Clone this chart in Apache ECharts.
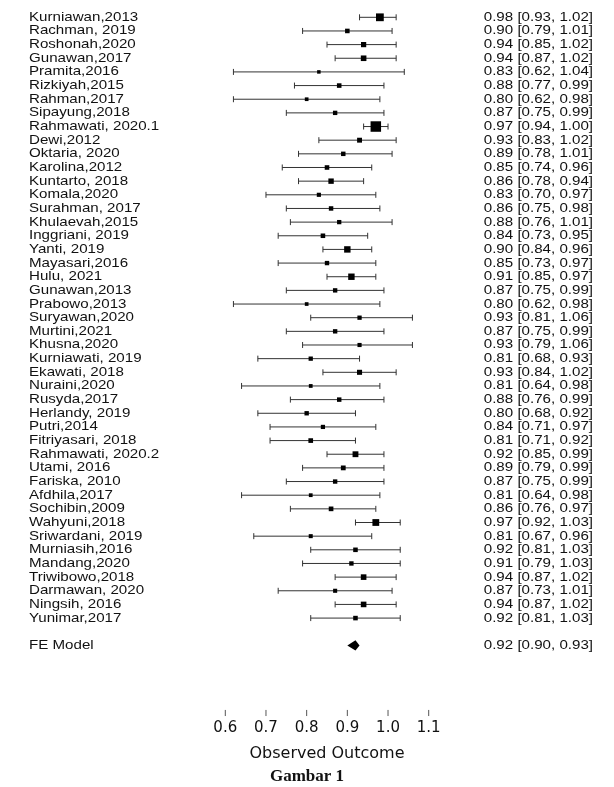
<!DOCTYPE html>
<html>
<head>
<meta charset="utf-8">
<script src="https://cdn.jsdelivr.net/npm/echarts@6/dist/echarts.min.js"></script>
<style>
  html, body { margin: 0; padding: 0; background: #fff; }
  #container { width: 614px; height: 787px; }
</style>
</head>
<body>
<div id="container"></div>
<script>
var studies = ['Kurniawan,2013', 'Rachman, 2019', 'Roshonah,2020', 'Gunawan,2017', 'Pramita,2016',
  'Rizkiyah,2015', 'Rahman,2017', 'Sipayung,2018', 'Rahmawati, 2020.1', 'Dewi,2012',
  'Oktaria, 2020', 'Karolina,2012', 'Kuntarto, 2018', 'Komala,2020', 'Surahman, 2017',
  'Khulaevah,2015', 'Inggriani, 2019', 'Yanti, 2019', 'Mayasari,2016', 'Hulu, 2021',
  'Gunawan,2013', 'Prabowo,2013', 'Suryawan,2020', 'Murtini,2021', 'Khusna,2020',
  'Kurniawati, 2019', 'Ekawati, 2018', 'Nuraini,2020', 'Rusyda,2017', 'Herlandy, 2019',
  'Putri,2014', 'Fitriyasari, 2018', 'Rahmawati, 2020.2', 'Utami, 2016', 'Fariska, 2010',
  'Afdhila,2017', 'Sochibin,2009', 'Wahyuni,2018', 'Sriwardani, 2019', 'Murniasih,2016',
  'Mandang,2020', 'Triwibowo,2018', 'Darmawan, 2020', 'Ningsih, 2016', 'Yunimar,2017'];
var est = [0.98, 0.90, 0.94, 0.94, 0.83, 0.88, 0.80, 0.87, 0.97, 0.93,
  0.89, 0.85, 0.86, 0.83, 0.86, 0.88, 0.84, 0.90, 0.85, 0.91,
  0.87, 0.80, 0.93, 0.87, 0.93, 0.81, 0.93, 0.81, 0.88, 0.80,
  0.84, 0.81, 0.92, 0.89, 0.87, 0.81, 0.86, 0.97, 0.81, 0.92,
  0.91, 0.94, 0.87, 0.94, 0.92];
var lower = [0.93, 0.79, 0.85, 0.87, 0.62, 0.77, 0.62, 0.75, 0.94, 0.83,
  0.78, 0.74, 0.78, 0.70, 0.75, 0.76, 0.73, 0.84, 0.73, 0.85,
  0.75, 0.62, 0.81, 0.75, 0.79, 0.68, 0.84, 0.64, 0.76, 0.68,
  0.71, 0.71, 0.85, 0.79, 0.75, 0.64, 0.76, 0.92, 0.67, 0.81,
  0.79, 0.87, 0.73, 0.87, 0.81];
var upper = [1.02, 1.01, 1.02, 1.02, 1.04, 0.99, 0.98, 0.99, 1.00, 1.02,
  1.01, 0.96, 0.94, 0.97, 0.98, 1.01, 0.95, 0.96, 0.97, 0.97,
  0.99, 0.98, 1.06, 0.99, 1.06, 0.93, 1.02, 0.98, 0.99, 0.92,
  0.97, 0.92, 0.99, 0.99, 0.99, 0.98, 0.97, 1.03, 0.96, 1.03,
  1.03, 1.02, 1.01, 1.02, 1.03];
var feLabel = 'FE Model';
var feEst = 0.92, feLower = 0.90, feUpper = 0.93;
var xTicks = [0.6, 0.7, 0.8, 0.9, 1.0, 1.1];

var chart = echarts.init(document.getElementById('container'));

function ann(e, l, u) {
  return e.toFixed(2) + ' [' + l.toFixed(2) + ', ' + u.toFixed(2) + ']';
}

// square size like metafor: 1/ci width rescaled to 0.5..1.5
var inv = studies.map(function (s, i) { return 1 / (upper[i] - lower[i]); });
var invMin = Math.min.apply(null, inv), invMax = Math.max.apply(null, inv);

var rowData = studies.map(function (s, i) {
  return [lower[i], est[i], upper[i], studies.length - i, i];
});

var textStyle = function (txt, align) {
  return { text: txt, fontSize: 12.6, fontFamily: 'Liberation Sans', fill: '#111', align: align, verticalAlign: 'middle' };
};

function renderRow(params, api) {
  var i = api.value(4);
  var y = api.value(3);
  var pL = api.coord([api.value(0), y]);
  var pE = api.coord([api.value(1), y]);
  var pU = api.coord([api.value(2), y]);
  var ps = (inv[i] - invMin) / (invMax - invMin) + 0.5;
  var sz = 7 * ps;
  var line = { stroke: '#333', lineWidth: 1 };
  return {
    type: 'group',
    children: [
      { type: 'line', shape: { x1: pL[0], y1: pL[1], x2: pU[0], y2: pU[1] }, style: line },
      { type: 'line', shape: { x1: pL[0], y1: pL[1] - 3, x2: pL[0], y2: pL[1] + 3 }, style: line },
      { type: 'line', shape: { x1: pU[0], y1: pU[1] - 3, x2: pU[0], y2: pU[1] + 3 }, style: line },
      { type: 'rect', shape: { x: pE[0] - sz / 2, y: pE[1] - sz / 2, width: sz, height: sz }, style: { fill: '#000' } },
      { type: 'text', x: 29, y: pE[1], scaleX: 1.2, style: textStyle(studies[i], 'left') },
      { type: 'text', x: 593, y: pE[1], scaleX: 1.2, style: textStyle(ann(est[i], lower[i], upper[i]), 'right') }
    ]
  };
}

function renderFE(params, api) {
  var y = api.value(3);
  var pL = api.coord([api.value(0), y]);
  var pE = api.coord([api.value(1), y]);
  var pU = api.coord([api.value(2), y]);
  return {
    type: 'group',
    children: [
      { type: 'polygon', shape: { points: [[pL[0], pL[1]], [pE[0], pE[1] - 5.2], [pU[0], pU[1]], [pE[0], pE[1] + 5.2]] }, style: { fill: '#000' } },
      { type: 'text', x: 29, y: pE[1], scaleX: 1.2, style: textStyle(feLabel, 'left') },
      { type: 'text', x: 593, y: pE[1], scaleX: 1.2, style: textStyle(ann(feEst, feLower, feUpper), 'right') }
    ]
  };
}

// tick marks under the plot (axis line itself is not drawn in the reference)
function renderTick(params, api) {
  var p = api.coord([api.value(0), -2]);
  return {
    type: 'line',
    shape: { x1: p[0], y1: p[1] + 50.9, x2: p[0], y2: p[1] + 57 },
    style: { stroke: '#555', lineWidth: 1 }
  };
}

var option = {
  animation: false,
  backgroundColor: '#fff',
  title: {
    text: 'Gambar 1',
    left: 'center',
    top: 768,
    padding: 0,
    textStyle: { fontFamily: 'Liberation Serif', fontWeight: 'bold', fontSize: 17, color: '#111' }
  },
  grid: { left: 225.3, top: 3.645, width: 203.4, height: 655.4, outerBoundsMode: 'none', containLabel: false },
  xAxis: {
    type: 'value',
    min: xTicks[0], max: xTicks[xTicks.length - 1], interval: 0.1,
    position: 'bottom',
    offset: 50.9,
    axisLine: { show: false, onZero: false },
    axisTick: { show: false },
    splitLine: { show: false },
    axisLabel: {
      margin: 11, fontSize: 15, lineHeight: 15, fontFamily: 'DejaVu Sans', color: '#111',
      formatter: function (v) { return v.toFixed(1); }
    },
    name: 'Observed Outcome',
    nameLocation: 'middle',
    nameGap: 36,
    nameTextStyle: { fontSize: 16, fontFamily: 'DejaVu Sans', color: '#111' }
  },
  yAxis: { type: 'value', min: -2, max: 46, show: false },
  series: [
    {
      type: 'custom',
      renderItem: renderRow,
      encode: { x: [0, 1, 2], y: 3 },
      data: rowData,
      clip: false
    },
    {
      type: 'custom',
      renderItem: renderFE,
      encode: { x: [0, 1, 2], y: 3 },
      data: [[feLower, feEst, feUpper, -1, 0]],
      clip: false
    },
    {
      type: 'custom',
      renderItem: renderTick,
      encode: { x: 0 },
      data: xTicks.map(function (v) { return [v]; }),
      clip: false
    }
  ]
};
chart.setOption(option);
</script>
</body>
</html>
